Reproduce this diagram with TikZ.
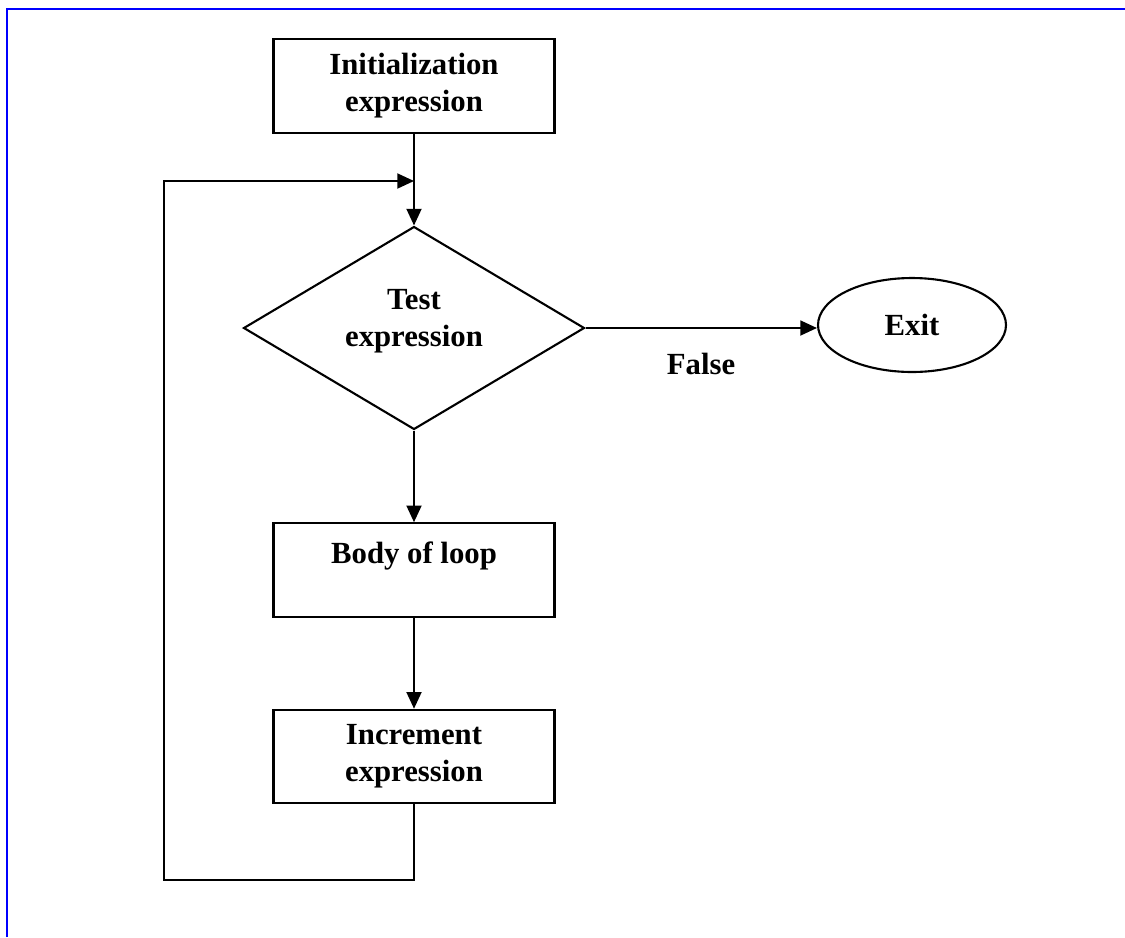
\documentclass[tikz,border=0pt]{standalone}
\usepackage{fontspec}
\setmainfont{Liberation Serif}
\usetikzlibrary{arrows.meta,shapes.geometric}

\begin{document}
\begin{tikzpicture}[x=0.02cm, y=-0.02cm, line width=1.2pt,
        >={Triangle[length=9.5pt,width=8.5pt]},
        nodes={font=\fontsize{17.5}{21}\selectfont\bfseries, align=center},
        box/.style={draw, rectangle, minimum width=5.62cm, minimum height=1.87cm},
        decision/.style={draw, diamond, minimum width=6.82cm, minimum height=4.06cm, inner sep=0pt},
        terminal/.style={draw, ellipse, minimum width=3.76cm, minimum height=1.88cm}]
        \useasboundingbox (0,0) rectangle (1125,937);
        % page frame
        \draw [blue, line width=1.3pt] (7,937) -- (7,9) -- (1125,9);
        \node [box] (init) at (414,86) {Initialization\\expression};
        \node [decision] (test) at (414,328) {};
        \node (testtext) at (414,321) {Test\\expression};
        \node [terminal] (exit) at (912,325) {Exit};
        \node (false) at (701,364) {False};
        \node [box] (body) at (414,570) {Body of loop\\[-8pt]\strut};
        \node [box] (incr) at (414,756.5) {Increment\\expression};
        \coordinate (join) at (414,181);
        \coordinate (loopbot) at (164,880);
        \draw [->] (init) -- (test);
        \draw [->] (test.east) -- (test.east -| exit.west);
        \draw [->] (test) -- (body);
        \draw [->] (body) -- (incr);
        \draw [->] (incr.south) -- (incr.south |- loopbot) -- (loopbot) -- (loopbot |- join) -- (join);
\end{tikzpicture}
\end{document}
